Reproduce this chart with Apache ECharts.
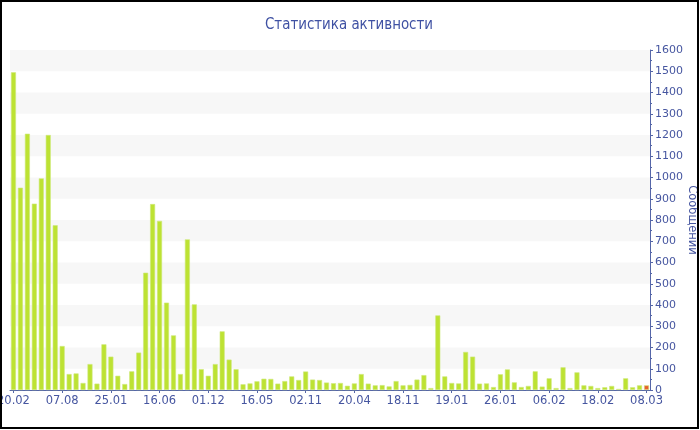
<!DOCTYPE html>
<html>
<head>
<meta charset="utf-8">
<script src="https://cdn.jsdelivr.net/npm/echarts@6/dist/echarts.min.js"></script>
<style>
html,body{margin:0;padding:0;background:#fff;}
#chart{width:700px;height:430px;}
</style>
</head>
<body>
<div id="chart"></div>
<script>
var titleText = 'Статистика активности';
var yAxisName = 'Сообщений';
var tickLabels = ['20.02','07.08','25.01','16.06','01.12','16.05','02.11','20.04','18.11','19.01','26.01','06.02','18.02','08.03'];
var labelStep = 7;
var messages = [
  1495, 952, 1206, 877, 996, 1200, 775, 207, 75, 78,
  33, 122, 30, 215, 157, 67, 28, 88, 176, 552,
  875, 796, 411, 257, 75, 709, 403, 98, 67, 122,
  276, 143, 98, 27, 31, 41, 53, 52, 30, 42,
  64, 47, 87, 49, 47, 35, 32, 33, 20, 31,
  75, 30, 22, 23, 17, 42, 22, 24, 49, 70,
  9, 351, 64, 33, 31, 179, 157, 30, 31, 14,
  74, 97, 36, 14, 19, 88, 16, 55, 9, 107,
  9, 83, 22, 19, 9, 13, 19, 5, 55, 13,
  22, 22
];
var yTicks = {min: 0, max: 1600, interval: 100};

var categories = messages.map(function (v, i) {
  return (i % labelStep === 0) ? tickLabels[i / labelStep] : String(i);
});
var barColor = '#bde233';
var lastColor = '#e8602c';
var seriesData = messages.map(function (v, i) {
  if (i === messages.length - 1) return {value: v, itemStyle: {color: lastColor}};
  return v;
});

// title: slightly condensed rendering to match the original face
var titleFont = '16px "DejaVu Sans Condensed", "DejaVu Sans", sans-serif';
var titleTargetWidth = 168;
var cv = document.createElement('canvas').getContext('2d');
cv.font = titleFont;
var titleScaleX = titleTargetWidth / cv.measureText(titleText).width;

var axisBlue = '#5566a8';
var textBlue = '#4656a0';
var chart = echarts.init(document.getElementById('chart'), null, {renderer: 'canvas'});
chart.setOption({
  animation: false,
  backgroundColor: '#fff',
  grid: {left: 10, right: 50, top: 50, bottom: 40, containLabel: false, outerBoundsMode: 'none'},
  xAxis: {
    type: 'category',
    data: categories,
    boundaryGap: true,
    axisLine: {lineStyle: {color: axisBlue, width: 1}},
    axisTick: {show: true, alignWithLabel: true, interval: labelStep - 1, length: 3, lineStyle: {color: axisBlue}},
    axisLabel: {
      interval: labelStep - 1,
      margin: 5,
      color: textBlue,
      fontSize: 11.5,
      fontFamily: '"DejaVu Sans", Verdana, sans-serif',
      hideOverlap: false,
      formatter: function (val, idx) { return idx % labelStep === 0 ? tickLabels[idx / labelStep] : ''; }
    },
    splitLine: {show: false}
  },
  yAxis: {
    type: 'value',
    position: 'right',
    min: yTicks.min,
    max: yTicks.max,
    interval: yTicks.interval,
    name: yAxisName,
    nameLocation: 'middle',
    nameRotate: -90,
    nameGap: 36,
    nameMoveOverlap: false,
    nameTextStyle: {color: textBlue, fontSize: 11.5, fontFamily: '"DejaVu Sans", Verdana, sans-serif'},
    axisLine: {show: true, lineStyle: {color: axisBlue, width: 1}},
    axisTick: {show: true, length: 3, lineStyle: {color: axisBlue}},
    minorTick: {show: true, splitNumber: 2, length: 2, lineStyle: {color: axisBlue}},
    axisLabel: {
      margin: 5, color: textBlue, fontSize: 11, fontFamily: '"DejaVu Sans", Verdana, sans-serif',
      formatter: function (v) { return String(v); }
    },
    splitLine: {show: false},
    splitArea: {show: true, areaStyle: {color: ['rgba(255,255,255,0)', '#f7f7f7']}}
  },
  series: [{
    type: 'bar',
    data: seriesData,
    barWidth: 5,
    clip: false,
    itemStyle: {color: barColor, borderColor: '#cfe97c', borderWidth: 0.6}
  }],
  graphic: [{
    type: 'text',
    silent: true,
    x: 349,
    y: 25,
    originX: 0,
    scaleX: titleScaleX,
    style: {
      text: titleText,
      font: titleFont,
      fill: '#3f51a3',
      align: 'center',
      verticalAlign: 'middle'
    }
  }, {
    type: 'rect',
    silent: true,
    z: 100,
    shape: {x: 1, y: 1, width: 697, height: 427},
    style: {fill: 'none', stroke: '#000', lineWidth: 2}
  }]
});
</script>
</body>
</html>
